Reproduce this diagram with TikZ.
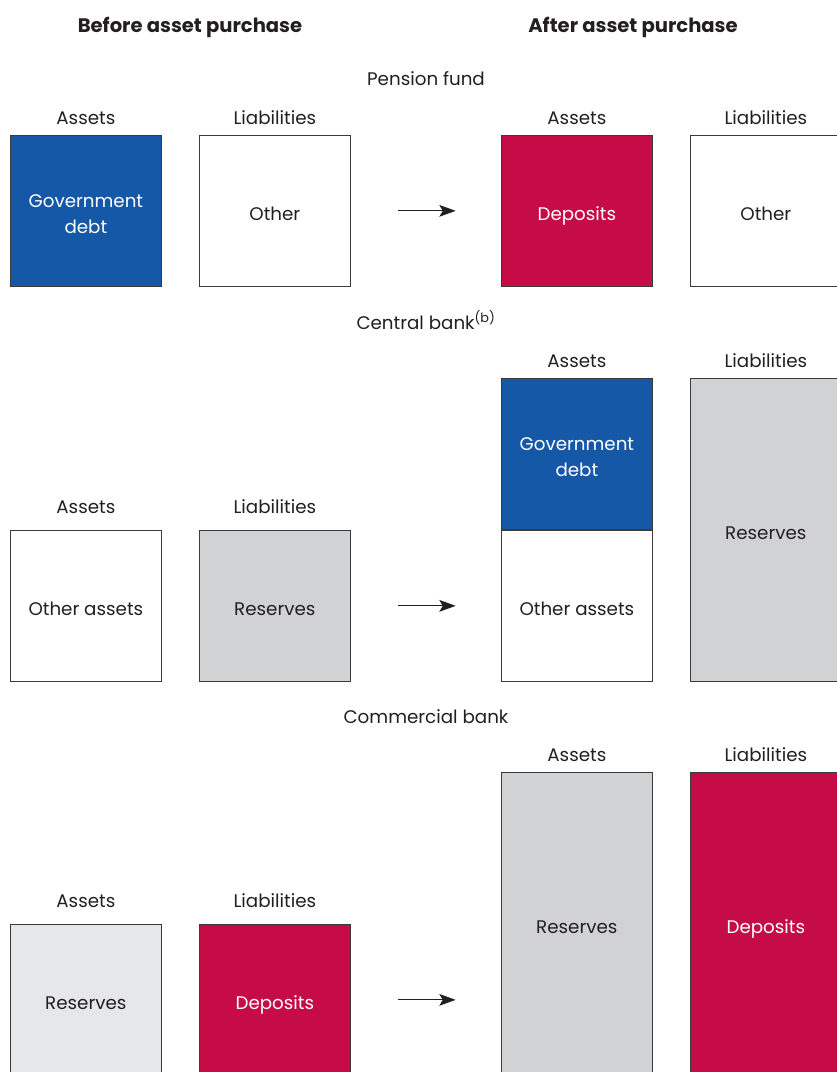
\documentclass[tikz,border=0pt]{standalone}
\usepackage{fontspec}
\setmainfont{Poppins}
\usetikzlibrary{positioning,arrows.meta}

\definecolor{boeblue}{HTML}{1558A8}
\definecolor{boered}{HTML}{C60C46}
\definecolor{boegrey}{HTML}{D1D2D4}
\definecolor{boelight}{HTML}{E6E7E9}
\definecolor{boeline}{HTML}{3A3A3A}
\definecolor{boetext}{HTML}{231F20}

\begin{document}
\begin{tikzpicture}[
		x=0.03cm, y=-0.03cm,
		sheet/.style={
			draw=boeline,
			line width=0.6pt,
			minimum width=4.53cm,
			minimum height=4.53cm,
			inner sep=0pt,
			anchor=north west,
			align=center,
			text=boetext,
			text height=0.6cm,
			text depth=0.03cm,
		},
		tall/.style={sheet, minimum height=9.09cm},
		dark/.style={text=white},
		twoline/.style={text height=1.38cm},
		side/.style={inner sep=0pt, text=boetext, above=0.3cm of #1},
		lowside/.style={inner sep=0pt, text=boetext, above=0.48cm of #1},
		caption/.style={anchor=base, text=boetext},
		font=\fontsize{15.6}{22}\selectfont,
		>={Stealth[length=14pt,width=10pt,inset=3pt]}
		]
		\useasboundingbox (0,0) rectangle (836,1072);
		% Draw the column headings
		\node[caption, font=\fontsize{16.7}{20}\selectfont\bfseries] (before) at (190,33) {Before asset purchase};
		\node[caption, font=\fontsize{16.7}{20}\selectfont\bfseries] (after) at (633,33) {After asset purchase};
		% Draw the pension fund
		\node[caption] (pf) at (426,86) {Pension fund};
		\node[sheet, fill=boeblue, dark, twoline] (pfA) at (10,135) {Government\\debt};
		\node[sheet, fill=white] (pfL) at (199,135) {Other};
		\node[sheet, fill=boered, dark] (pfA2) at (501,135) {Deposits};
		\node[sheet, fill=white] (pfL2) at (690,135) {Other};
		% Draw the central bank
		\node[caption] (cb) at (426,329) {Central bank\textsuperscript{(b)}};
		\node[sheet, fill=white] (cbA) at (10,530) {Other assets};
		\node[sheet, fill=boegrey] (cbL) at (199,530) {Reserves};
		\node[sheet, fill=boeblue, dark, twoline] (cbA2) at (501,378) {Government\\debt};
		\node[sheet, fill=white] (cbB2) at (501,530) {Other assets};
		\node[tall, fill=boegrey] (cbL2) at (690,378) {Reserves};
		% Draw the commercial bank
		\node[caption] (cm) at (426,723) {Commercial bank};
		\node[sheet, fill=boelight] (cmA) at (10,924) {Reserves};
		\node[sheet, fill=boered, dark] (cmL) at (199,924) {Deposits};
		\node[tall, fill=boegrey] (cmA2) at (501,772) {Reserves};
		\node[tall, fill=boered, dark] (cmL2) at (690,772) {Deposits};
		% Draw the assets and liabilities labels
		\node[side=pfA] {Assets};
		\node[side=pfL] {Liabilities};
		\foreach \b in {pf,cb,cm} {
			\node[side=\b A2] {Assets};
			\node[side=\b L2] {Liabilities};
		}
		\foreach \b in {cb,cm} {
			\node[lowside=\b A] {Assets};
			\node[lowside=\b L] {Liabilities};
		}
		% Draw the arrows
		\foreach \b in {pf,cb,cm}
			\draw[->, line width=0.9pt, boetext] ([xshift=1.41cm]\b L.east) -- ([xshift=3.15cm]\b L.east);
	\end{tikzpicture}
\end{document}
